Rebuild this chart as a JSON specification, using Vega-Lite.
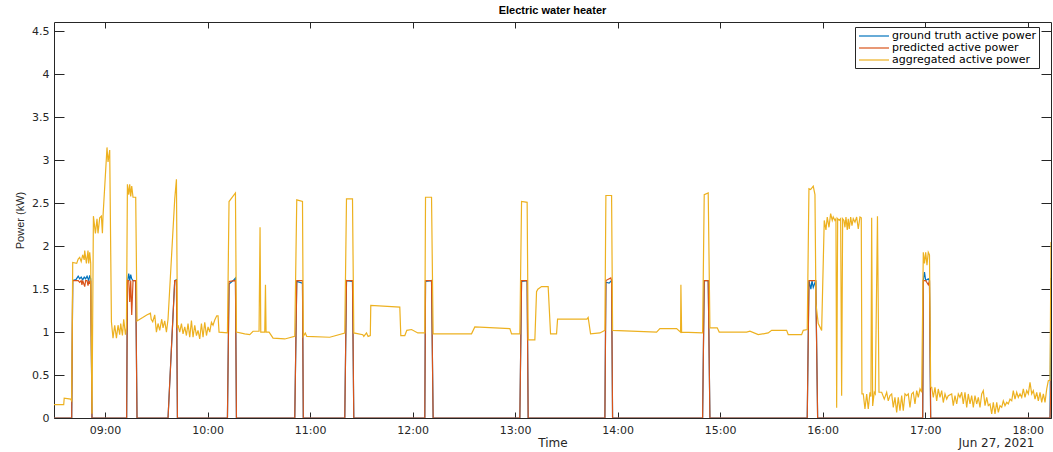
{
  "$schema": "https://vega.github.io/schema/vega-lite/v6.json",
  "width": 997,
  "height": 396,
  "autosize": "none",
  "padding": {"left": 54, "top": 22, "right": 2, "bottom": 34},
  "background": "white",
  "config": {
    "view": {"stroke": "#262626", "strokeWidth": 1},
    "axis": {
      "labelFont": "DejaVu Sans", "labelFontSize": 11, "labelColor": "#262626",
      "tickColor": "#262626", "tickWidth": 1,
      "titleFont": "DejaVu Sans", "titleFontSize": 12, "titleFontWeight": "normal", "titleColor": "#262626",
      "grid": false, "domain": false
    }
  },
  "title": {"text": "Electric water heater", "font": "Liberation Sans", "fontSize": 11, "fontWeight": "bold", "color": "black", "offset": 6},
  "datasets": {
    "gt": [
      {"t":"08:30:09","v":0},{"t":"08:40:30","v":0},{"t":"08:41:06","v":1.6},{"t":"08:43:00","v":1.61},{"t":"08:44:19","v":1.65},{"t":"08:45:11","v":1.62},{"t":"08:46:04","v":1.64},{"t":"08:46:57","v":1.61},{"t":"08:47:50","v":1.64},{"t":"08:48:40","v":1.62},{"t":"08:49:30","v":1.65},{"t":"08:50:28","v":1.6},{"t":"08:51:03","v":1.66},{"t":"08:51:38","v":1.62},{"t":"08:52:23","v":0},
      {"t":"09:12:40","v":0},{"t":"09:13:07","v":1.58},{"t":"09:13:53","v":1.68},{"t":"09:14:28","v":1.6},{"t":"09:15:03","v":1.67},{"t":"09:15:38","v":1.62},{"t":"09:16:24","v":1.6},{"t":"09:17:58","v":1.6},{"t":"09:18:44","v":0},
      {"t":"09:36:53","v":0},{"t":"09:40:48","v":1.6},{"t":"09:41:48","v":1.61},{"t":"09:42:23","v":0},
      {"t":"10:11:39","v":0},{"t":"10:12:35","v":1.56},{"t":"10:15:00","v":1.6},{"t":"10:16:20","v":1.63},{"t":"10:16:55","v":0},
      {"t":"10:51:03","v":0},{"t":"10:52:13","v":1.59},{"t":"10:55:34","v":1.57},{"t":"10:56:02","v":0},
      {"t":"11:20:19","v":0},{"t":"11:21:19","v":1.6},{"t":"11:24:50","v":1.59},{"t":"11:25:35","v":0},
      {"t":"12:07:09","v":0},{"t":"12:07:34","v":1.59},{"t":"12:11:05","v":1.6},{"t":"12:12:01","v":0},
      {"t":"13:02:46","v":0},{"t":"13:03:46","v":1.59},{"t":"13:07:02","v":1.6},{"t":"13:07:38","v":0},
      {"t":"13:52:32","v":0},{"t":"13:53:07","v":1.58},{"t":"13:55:00","v":1.57},{"t":"13:56:27","v":1.6},{"t":"13:57:02","v":0},
      {"t":"14:49:43","v":0},{"t":"14:50:40","v":1.6},{"t":"14:53:00","v":1.6},{"t":"14:54:00","v":0},
      {"t":"15:50:57","v":0},{"t":"15:51:57","v":1.6},{"t":"15:53:05","v":1.5},{"t":"15:53:45","v":1.6},{"t":"15:54:28","v":1.52},{"t":"15:55:56","v":1.6},{"t":"15:57:02","v":0},
      {"t":"16:58:31","v":0},{"t":"16:58:52","v":1.6},{"t":"16:59:34","v":1.7},{"t":"17:00:16","v":1.6},{"t":"17:01:47","v":1.62},{"t":"17:02:29","v":1.6},{"t":"17:03:11","v":0},
      {"t":"18:13:02","v":0},{"t":"18:13:36","v":1.63}
    ],
    "pr": [
      {"t":"08:30:09","v":0},{"t":"08:40:30","v":0},{"t":"08:41:06","v":1.6},{"t":"08:44:19","v":1.6},{"t":"08:45:11","v":1.58},{"t":"08:46:04","v":1.6},{"t":"08:46:30","v":1.55},{"t":"08:46:57","v":1.6},{"t":"08:48:07","v":1.53},{"t":"08:48:40","v":1.6},{"t":"08:49:30","v":1.6},{"t":"08:50:03","v":1.54},{"t":"08:50:40","v":1.6},{"t":"08:51:03","v":1.56},{"t":"08:51:38","v":1.6},{"t":"08:52:23","v":0},
      {"t":"09:12:40","v":0},{"t":"09:13:07","v":1.6},{"t":"09:13:53","v":1.6},{"t":"09:14:28","v":1.35},{"t":"09:15:03","v":1.6},{"t":"09:15:38","v":1.2},{"t":"09:16:24","v":1.6},{"t":"09:17:58","v":1.6},{"t":"09:18:44","v":0},
      {"t":"09:36:53","v":0},{"t":"09:40:48","v":1.6},{"t":"09:41:48","v":1.6},{"t":"09:42:23","v":0},
      {"t":"10:11:39","v":0},{"t":"10:12:35","v":1.59},{"t":"10:16:20","v":1.6},{"t":"10:16:55","v":0},
      {"t":"10:51:03","v":0},{"t":"10:52:13","v":1.6},{"t":"10:55:34","v":1.6},{"t":"10:56:02","v":0},
      {"t":"11:20:19","v":0},{"t":"11:21:19","v":1.6},{"t":"11:24:50","v":1.6},{"t":"11:25:35","v":0},
      {"t":"12:07:09","v":0},{"t":"12:07:34","v":1.6},{"t":"12:11:05","v":1.6},{"t":"12:12:01","v":0},
      {"t":"13:02:46","v":0},{"t":"13:03:46","v":1.6},{"t":"13:07:02","v":1.6},{"t":"13:07:38","v":0},
      {"t":"13:52:32","v":0},{"t":"13:53:07","v":1.6},{"t":"13:56:00","v":1.63},{"t":"13:56:27","v":1.6},{"t":"13:57:02","v":0},
      {"t":"14:49:43","v":0},{"t":"14:50:40","v":1.6},{"t":"14:53:00","v":1.6},{"t":"14:54:00","v":0},
      {"t":"15:50:57","v":0},{"t":"15:51:57","v":1.6},{"t":"15:55:56","v":1.6},{"t":"15:57:02","v":0},
      {"t":"16:58:31","v":0},{"t":"16:58:52","v":1.6},{"t":"17:00:16","v":1.6},{"t":"17:01:47","v":1.55},{"t":"17:02:29","v":1.6},{"t":"17:03:11","v":0},
      {"t":"18:13:02","v":0},{"t":"18:13:36","v":0.45}
    ],
    "ag": [
      {"t":"08:30:09","v":0.155},{"t":"08:35:50","v":0.155},{"t":"08:36:07","v":0.23},{"t":"08:39:55","v":0.22},{"t":"08:40:30","v":0.2},{"t":"08:41:06","v":1.81},{"t":"08:43:26","v":1.8},{"t":"08:44:19","v":1.85},{"t":"08:45:11","v":1.87},{"t":"08:46:04","v":1.82},{"t":"08:46:57","v":1.9},{"t":"08:47:50","v":1.84},{"t":"08:48:07","v":1.95},{"t":"08:49:07","v":1.8},{"t":"08:50:03","v":1.95},{"t":"08:50:28","v":1.8},{"t":"08:51:03","v":1.93},{"t":"08:51:38","v":1.8},{"t":"08:52:23","v":0.05},
      {"t":"08:53:13","v":2.35},{"t":"08:54:23","v":2.15},{"t":"08:55:19","v":2.32},{"t":"08:55:54","v":2.15},{"t":"08:56:54","v":2.33},{"t":"08:57:53","v":2.35},{"t":"08:58:29","v":2.15},{"t":"08:58:50","v":2.35},{"t":"09:01:10","v":3.15},{"t":"09:01:46","v":2.98},{"t":"09:02:45","v":3.12},{"t":"09:03:45","v":1.12},
      {"t":"09:04:41","v":0.93},{"t":"09:05:41","v":1.08},{"t":"09:06:41","v":0.93},{"t":"09:07:37","v":1.08},{"t":"09:08:36","v":0.97},{"t":"09:09:11","v":1.1},{"t":"09:10:11","v":0.96},{"t":"09:10:57","v":1.15},{"t":"09:11:57","v":0.97},{"t":"09:12:32","v":1.05},
      {"t":"09:13:07","v":2.72},{"t":"09:13:53","v":2.6},{"t":"09:14:28","v":2.72},{"t":"09:15:03","v":2.58},{"t":"09:15:38","v":2.7},{"t":"09:16:24","v":2.57},{"t":"09:17:58","v":2.57},{"t":"09:18:44","v":1.13},
      {"t":"09:22:04","v":1.17},{"t":"09:24:25","v":1.2},{"t":"09:26:35","v":1.22},{"t":"09:27:03","v":1.15},{"t":"09:27:56","v":1.12},{"t":"09:29:06","v":1.2},{"t":"09:30:05","v":1.0},{"t":"09:31:02","v":1.1},{"t":"09:32:01","v":1.02},{"t":"09:33:12","v":1.15},{"t":"09:33:57","v":1.05},{"t":"09:34:57","v":1.13},{"t":"09:35:57","v":1.0},{"t":"09:36:53","v":1.15},
      {"t":"09:40:48","v":2.55},{"t":"09:41:48","v":2.78},{"t":"09:42:23","v":1.05},
      {"t":"09:42:44","v":1.08},{"t":"09:43:44","v":1.0},{"t":"09:44:44","v":1.1},{"t":"09:45:40","v":0.98},{"t":"09:46:40","v":1.06},{"t":"09:47:39","v":0.96},{"t":"09:48:35","v":1.1},{"t":"09:49:35","v":0.94},{"t":"09:50:35","v":1.135},{"t":"09:51:31","v":0.94},{"t":"09:52:31","v":1.08},{"t":"09:53:31","v":0.96},{"t":"09:54:26","v":1.02},{"t":"09:55:26","v":0.92},{"t":"09:56:26","v":1.1},{"t":"09:57:22","v":0.94},{"t":"09:58:22","v":1.115},{"t":"09:59:22","v":0.96},{"t":"10:00:18","v":1.06},{"t":"10:01:17","v":1.0},{"t":"10:02:17","v":1.115},{"t":"10:03:13","v":1.08},{"t":"10:04:13","v":1.14},{"t":"10:05:23","v":1.19},{"t":"10:06:09","v":1.19},{"t":"10:06:44","v":1.0},
      {"t":"10:11:39","v":0.99},{"t":"10:12:35","v":2.52},{"t":"10:16:20","v":2.62},{"t":"10:16:55","v":1.0},
      {"t":"10:21:47","v":0.98},{"t":"10:24:43","v":0.97},{"t":"10:26:38","v":1.01},{"t":"10:30:09","v":1.01},{"t":"10:30:44","v":2.22},{"t":"10:31:09","v":1.0},{"t":"10:33:29","v":1.0},{"t":"10:33:54","v":1.55},{"t":"10:34:15","v":1.0},{"t":"10:36:01","v":1.0},{"t":"10:38:21","v":0.93},{"t":"10:45:12","v":0.92},{"t":"10:51:03","v":0.95},
      {"t":"10:52:13","v":2.54},{"t":"10:55:34","v":2.52},{"t":"10:56:02","v":0.95},{"t":"10:57:12","v":0.99},{"t":"10:58:05","v":0.95},{"t":"11:11:32","v":0.94},{"t":"11:20:19","v":0.99},
      {"t":"11:21:19","v":2.55},{"t":"11:24:50","v":2.55},{"t":"11:25:35","v":0.99},{"t":"11:30:52","v":0.97},{"t":"11:31:27","v":0.95},{"t":"11:33:02","v":0.99},{"t":"11:33:58","v":0.95},{"t":"11:35:15","v":0.96},{"t":"11:35:32","v":1.31},{"t":"11:52:31","v":1.29},{"t":"11:53:06","v":0.96},{"t":"11:55:27","v":0.96},{"t":"11:56:37","v":1.02},{"t":"11:59:22","v":1.03},{"t":"12:03:04","v":0.99},{"t":"12:07:09","v":0.99},
      {"t":"12:07:34","v":2.57},{"t":"12:11:05","v":2.57},{"t":"12:12:01","v":0.98},{"t":"12:34:29","v":0.98},{"t":"12:36:25","v":1.06},{"t":"12:56:55","v":1.04},{"t":"12:57:55","v":0.98},{"t":"13:02:46","v":0.98},
      {"t":"13:03:46","v":2.52},{"t":"13:07:02","v":2.51},{"t":"13:07:38","v":0.91},{"t":"13:11:33","v":0.91},{"t":"13:12:32","v":1.47},{"t":"13:13:18","v":1.5},{"t":"13:15:28","v":1.53},{"t":"13:19:20","v":1.53},{"t":"13:20:44","v":0.98},{"t":"13:24:15","v":0.98},{"t":"13:24:50","v":1.15},{"t":"13:42:00","v":1.15},{"t":"13:42:45","v":1.17},{"t":"13:44:09","v":0.98},{"t":"13:49:36","v":0.99},{"t":"13:51:32","v":1.01},{"t":"13:52:32","v":1.02},
      {"t":"13:53:07","v":2.59},{"t":"13:56:27","v":2.59},{"t":"13:57:02","v":1.02},{"t":"14:22:47","v":1.0},{"t":"14:24:43","v":1.04},{"t":"14:34:30","v":1.04},{"t":"14:36:50","v":1.0},{"t":"14:37:01","v":1.55},{"t":"14:37:26","v":1.0},{"t":"14:49:43","v":0.99},
      {"t":"14:50:40","v":2.6},{"t":"14:53:00","v":2.62},{"t":"14:54:00","v":1.05},{"t":"14:58:16","v":1.05},{"t":"14:59:26","v":1.0},{"t":"15:15:29","v":1.0},{"t":"15:17:25","v":1.01},{"t":"15:22:16","v":0.97},{"t":"15:28:07","v":0.99},{"t":"15:30:07","v":1.02},{"t":"15:38:53","v":1.02},{"t":"15:39:50","v":0.97},{"t":"15:47:40","v":0.97},{"t":"15:48:37","v":1.02},{"t":"15:50:57","v":1.03},
      {"t":"15:51:57","v":2.67},{"t":"15:52:56","v":2.66},{"t":"15:54:28","v":2.7},{"t":"15:55:28","v":2.6},{"t":"15:56:03","v":1.33},{"t":"15:57:23","v":1.1},{"t":"15:59:23","v":1.02},
      {"t":"16:00:54","v":2.3},{"t":"16:01:54","v":2.19},{"t":"16:02:40","v":2.34},{"t":"16:03:40","v":2.22},{"t":"16:04:39","v":2.38},{"t":"16:05:35","v":2.3},{"t":"16:06:10","v":2.34},{"t":"16:07:10","v":2.3},{"t":"16:07:45","v":2.32},{"t":"16:08:10","v":0.12},{"t":"16:08:45","v":2.32},{"t":"16:09:41","v":2.3},{"t":"16:10:30","v":2.32},{"t":"16:11:05","v":0.26},{"t":"16:11:40","v":2.32},{"t":"16:12:26","v":2.3},{"t":"16:13:01","v":2.22},{"t":"16:13:37","v":2.34},{"t":"16:14:22","v":2.19},{"t":"16:14:57","v":2.32},{"t":"16:15:32","v":2.2},{"t":"16:16:22","v":2.34},{"t":"16:17:07","v":2.24},{"t":"16:17:53","v":2.32},{"t":"16:18:53","v":2.28},{"t":"16:19:52","v":2.34},{"t":"16:20:49","v":2.2},{"t":"16:21:48","v":2.34},{"t":"16:22:34","v":2.33},
      {"t":"16:22:58","v":0.28},{"t":"16:23:44","v":0.28},{"t":"16:24:44","v":0.105},{"t":"16:25:44","v":0.28},{"t":"16:26:40","v":0.105},{"t":"16:27:40","v":0.3},{"t":"16:28:14","v":0.25},{"t":"16:28:39","v":2.33},{"t":"16:29:14","v":0.14},{"t":"16:30:10","v":0.3},{"t":"16:30:46","v":0.28},{"t":"16:32:03","v":2.35},{"t":"16:32:56","v":0.3},{"t":"16:34:31","v":0.3},{"t":"16:36:02","v":0.22},{"t":"16:37:26","v":0.3},{"t":"16:38:22","v":0.2},{"t":"16:39:22","v":0.26},{"t":"16:40:22","v":0.28},{"t":"16:41:18","v":0.124},{"t":"16:42:17","v":0.24},{"t":"16:43:17","v":0.065},{"t":"16:44:13","v":0.24},{"t":"16:45:13","v":0.085},{"t":"16:46:13","v":0.26},{"t":"16:47:09","v":0.085},{"t":"16:48:09","v":0.28},{"t":"16:49:08","v":0.26},{"t":"16:50:05","v":0.28},{"t":"16:51:04","v":0.124},{"t":"16:52:04","v":0.28},{"t":"16:53:01","v":0.3},{"t":"16:54:00","v":0.163},{"t":"16:55:00","v":0.32},{"t":"16:55:56","v":0.24},{"t":"16:56:56","v":0.34},{"t":"16:57:55","v":0.3},
      {"t":"16:58:52","v":1.93},{"t":"16:59:34","v":1.8},{"t":"17:00:16","v":1.93},{"t":"17:01:01","v":1.78},{"t":"17:01:47","v":1.93},{"t":"17:02:29","v":1.9},{"t":"17:03:11","v":0.36},
      {"t":"17:03:47","v":0.357},{"t":"17:04:43","v":0.24},{"t":"17:05:43","v":0.357},{"t":"17:06:42","v":0.2},{"t":"17:07:38","v":0.338},{"t":"17:08:38","v":0.24},{"t":"17:09:38","v":0.319},{"t":"17:10:34","v":0.18},{"t":"17:11:34","v":0.28},{"t":"17:12:34","v":0.22},{"t":"17:13:29","v":0.26},{"t":"17:15:29","v":0.28},{"t":"17:16:25","v":0.144},{"t":"17:17:25","v":0.26},{"t":"17:18:25","v":0.163},{"t":"17:19:21","v":0.28},{"t":"17:20:20","v":0.24},{"t":"17:21:20","v":0.3},{"t":"17:22:16","v":0.163},{"t":"17:23:16","v":0.3},{"t":"17:24:16","v":0.124},{"t":"17:25:12","v":0.28},{"t":"17:26:12","v":0.163},{"t":"17:27:11","v":0.26},{"t":"17:28:08","v":0.124},{"t":"17:29:07","v":0.26},{"t":"17:30:07","v":0.163},{"t":"17:31:04","v":0.24},{"t":"17:32:03","v":0.124},{"t":"17:33:03","v":0.28},{"t":"17:33:59","v":0.319},{"t":"17:34:59","v":0.144},{"t":"17:35:58","v":0.24},{"t":"17:36:55","v":0.144},{"t":"17:37:54","v":0.163},{"t":"17:38:54","v":0.047},{"t":"17:39:50","v":0.182},{"t":"17:40:50","v":0.047},{"t":"17:41:50","v":0.182},{"t":"17:42:46","v":0.065},{"t":"17:43:46","v":0.144},{"t":"17:44:45","v":0.124},{"t":"17:45:41","v":0.2},{"t":"17:46:41","v":0.144},{"t":"17:47:41","v":0.182},{"t":"17:48:37","v":0.163},{"t":"17:49:37","v":0.22},{"t":"17:50:37","v":0.2},{"t":"17:51:32","v":0.319},{"t":"17:52:32","v":0.22},{"t":"17:53:32","v":0.299},{"t":"17:54:28","v":0.24},{"t":"17:55:28","v":0.28},{"t":"17:56:28","v":0.24},{"t":"17:57:24","v":0.338},{"t":"17:58:23","v":0.24},{"t":"17:59:23","v":0.319},{"t":"18:00:20","v":0.28},{"t":"18:01:19","v":0.415},{"t":"18:02:19","v":0.28},{"t":"18:03:15","v":0.319},{"t":"18:04:15","v":0.22},{"t":"18:05:14","v":0.299},{"t":"18:06:11","v":0.2},{"t":"18:07:11","v":0.299},{"t":"18:08:10","v":0.182},{"t":"18:09:07","v":0.28},{"t":"18:10:06","v":0.182},{"t":"18:11:06","v":0.338},{"t":"18:12:02","v":0.435},{"t":"18:13:02","v":0.44},{"t":"18:13:36","v":2.05}
    ]
  },
  "layer": [
    {
      "data": {"name": "gt", "format": {"parse": {"t": "date:'%H:%M:%S'"}}},
      "mark": {"type": "line", "strokeWidth": 1.2, "clip": true},
      "encoding": {
        "x": {"field": "t", "type": "temporal",
          "scale": {"domain": [{"year":1900,"month":1,"date":1,"hours":8,"minutes":30,"seconds":9},{"year":1900,"month":1,"date":1,"hours":18,"minutes":13,"seconds":36}]},
          "axis": {"orient": "top", "labels": false, "title": null, "tickSize": -6,
            "values": [{"year":1900,"month":1,"date":1,"hours":9},{"year":1900,"month":1,"date":1,"hours":10},{"year":1900,"month":1,"date":1,"hours":11},{"year":1900,"month":1,"date":1,"hours":12},{"year":1900,"month":1,"date":1,"hours":13},{"year":1900,"month":1,"date":1,"hours":14},{"year":1900,"month":1,"date":1,"hours":15},{"year":1900,"month":1,"date":1,"hours":16},{"year":1900,"month":1,"date":1,"hours":17},{"year":1900,"month":1,"date":1,"hours":18}]}},
        "y": {"field": "v", "type": "quantitative",
          "scale": {"domain": [0, 4.61], "nice": false},
          "axis": {"orient": "left", "title": "Power (kW)", "titleFont": "Liberation Sans", "titleFontSize": 11, "values": [0,0.5,1,1.5,2,2.5,3,3.5,4,4.5], "format": "~g", "tickSize": -10, "labelPadding": 15, "titlePadding": 6}},
        "color": {"datum": "ground truth active power", "type": "nominal",
          "scale": {"domain": ["ground truth active power", "predicted active power", "aggregated active power"], "range": ["#0072BD", "#D95319", "#EDB120"]},
          "legend": {"title": null, "orient": "none", "legendX": 801, "legendY": 5, "direction": "vertical", "symbolType": "M-1,0H5", "symbolSize": 100, "symbolStrokeWidth": 1.2, "labelFont": "DejaVu Sans", "labelFontSize": 11, "labelColor": "black", "labelOffset": 22, "padding": 3, "rowPadding": 1, "strokeColor": "#262626", "fillColor": "white", "labelLimit": 0}}
      }
    },
    {
      "data": {"name": "pr", "format": {"parse": {"t": "date:'%H:%M:%S'"}}},
      "mark": {"type": "line", "strokeWidth": 1.2, "clip": true},
      "encoding": {
        "x": {"field": "t", "type": "temporal",
          "axis": {"orient": "bottom", "labels": false, "ticks": false, "title": "Jun 27, 2021", "titleX": 942, "titleY": 24, "titleAlign": "center", "titleBaseline": "middle"}},
        "y": {"field": "v", "type": "quantitative",
          "axis": {"orient": "right", "labels": false, "title": null, "tickSize": -10, "values": [0,0.5,1,1.5,2,2.5,3,3.5,4,4.5]}},
        "color": {"datum": "predicted active power", "type": "nominal",
          "legend": {"title": null, "orient": "none", "legendX": 801, "legendY": 5, "direction": "vertical", "symbolType": "M-1,0H5", "symbolSize": 100, "symbolStrokeWidth": 1.2, "labelFont": "DejaVu Sans", "labelFontSize": 11, "labelColor": "black", "labelOffset": 22, "padding": 3, "rowPadding": 1, "strokeColor": "#262626", "fillColor": "white", "labelLimit": 0}}
      }
    },
    {
      "data": {"name": "ag", "format": {"parse": {"t": "date:'%H:%M:%S'"}}},
      "mark": {"type": "line", "strokeWidth": 1.2, "clip": true},
      "encoding": {
        "x": {"field": "t", "type": "temporal",
          "axis": {"orient": "bottom", "title": "Time", "format": "%H:%M", "tickSize": -6, "labelPadding": 12, "titlePadding": 2,
            "values": [{"year":1900,"month":1,"date":1,"hours":9},{"year":1900,"month":1,"date":1,"hours":10},{"year":1900,"month":1,"date":1,"hours":11},{"year":1900,"month":1,"date":1,"hours":12},{"year":1900,"month":1,"date":1,"hours":13},{"year":1900,"month":1,"date":1,"hours":14},{"year":1900,"month":1,"date":1,"hours":15},{"year":1900,"month":1,"date":1,"hours":16},{"year":1900,"month":1,"date":1,"hours":17},{"year":1900,"month":1,"date":1,"hours":18}]}},
        "y": {"field": "v", "type": "quantitative", "axis": null},
        "color": {"datum": "aggregated active power", "type": "nominal",
          "legend": {"title": null, "orient": "none", "legendX": 801, "legendY": 5, "direction": "vertical", "symbolType": "M-1,0H5", "symbolSize": 100, "symbolStrokeWidth": 1.2, "labelFont": "DejaVu Sans", "labelFontSize": 11, "labelColor": "black", "labelOffset": 22, "padding": 3, "rowPadding": 1, "strokeColor": "#262626", "fillColor": "white", "labelLimit": 0}}
      }
    }
  ],
  "resolve": {"axis": {"x": "independent", "y": "independent"}}
}
